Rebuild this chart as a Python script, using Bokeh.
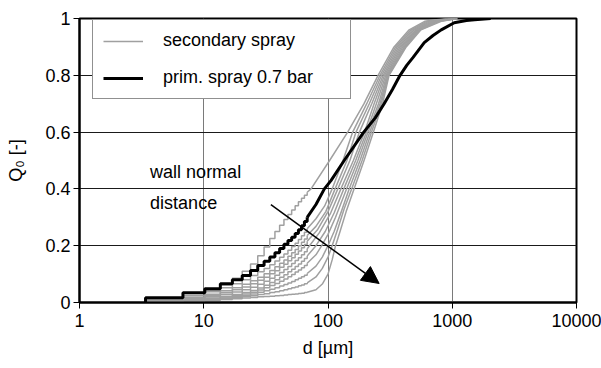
from bokeh.plotting import figure
from bokeh.models import (FixedTicker, CustomJSTickFormatter, Legend, LegendItem,
                          Arrow, NormalHead, Label, Range1d)
from bokeh.embed import file_html
from bokeh.resources import INLINE

# ---------------- data ----------------
X_TICKS = [1, 10, 100, 1000, 10000]
Y_TICKS = [0, 0.2, 0.4, 0.6, 0.8, 1.0]

# size-class upper edges of the discrete (stair-step) part, in um
BIN_D = [3.4, 6.8, 10.2, 13.6, 17.0, 20.4, 23.8, 27.2, 30.6, 34.0,
         37.4, 40.8, 44.2, 47.6, 51.0, 54.4, 57.8, 61.2, 64.6, 68.0]

# primary spray 0.7 bar
PRIM_STEP_Q = [0.0165, 0.034, 0.048, 0.066, 0.080, 0.095, 0.113, 0.130, 0.145, 0.160,
               0.175, 0.190, 0.205, 0.218, 0.230, 0.243, 0.256, 0.270, 0.285, 0.300]
PRIM_D = [68, 80, 93.5, 106, 135, 194, 240, 283, 330, 380, 430, 484, 595, 700, 815, 1037, 1300, 1510, 2040]
PRIM_Q = [0.30, 0.345, 0.40, 0.43, 0.50, 0.60, 0.65, 0.70, 0.75, 0.80, 0.835, 0.863, 0.915, 0.94,
          0.96, 0.985, 0.993, 0.996, 1.0]

# secondary spray, ten wall-normal distances (closest first)
SEC_STEP_Q = [
    [0.011, 0.025, 0.042, 0.062, 0.085, 0.110, 0.136, 0.165, 0.195, 0.225, 0.250, 0.272, 0.292, 0.310, 0.326, 0.341, 0.355, 0.367, 0.378, 0.388],
    [0.010, 0.024, 0.038, 0.052, 0.066, 0.080, 0.095, 0.108, 0.120, 0.133, 0.146, 0.159, 0.171, 0.184, 0.197, 0.209, 0.222, 0.235, 0.247, 0.260],
    [0.008, 0.018, 0.029, 0.041, 0.052, 0.064, 0.077, 0.089, 0.101, 0.113, 0.126, 0.138, 0.150, 0.163, 0.175, 0.187, 0.200, 0.212, 0.224, 0.236],
    [0.007, 0.016, 0.025, 0.035, 0.045, 0.055, 0.066, 0.078, 0.089, 0.101, 0.112, 0.124, 0.135, 0.147, 0.158, 0.170, 0.181, 0.193, 0.204, 0.216],
    [0.006, 0.013, 0.021, 0.029, 0.037, 0.045, 0.054, 0.064, 0.075, 0.085, 0.096, 0.106, 0.116, 0.127, 0.137, 0.148, 0.158, 0.168, 0.179, 0.189],
    [0.005, 0.010, 0.016, 0.022, 0.028, 0.035, 0.042, 0.051, 0.061, 0.070, 0.080, 0.089, 0.098, 0.108, 0.117, 0.127, 0.136, 0.145, 0.155, 0.164],
    [0.004, 0.009, 0.014, 0.019, 0.024, 0.030, 0.036, 0.044, 0.052, 0.060, 0.067, 0.075, 0.083, 0.091, 0.099, 0.107, 0.114, 0.122, 0.130, 0.138],
    [0.004, 0.008, 0.012, 0.016, 0.021, 0.025, 0.030, 0.036, 0.041, 0.047, 0.052, 0.058, 0.063, 0.069, 0.074, 0.080, 0.085, 0.091, 0.096, 0.102],
    [0.003, 0.007, 0.010, 0.014, 0.017, 0.021, 0.024, 0.028, 0.031, 0.035, 0.038, 0.041, 0.045, 0.048, 0.052, 0.055, 0.059, 0.062, 0.066, 0.069],
    [0.003, 0.006, 0.008, 0.011, 0.013, 0.016, 0.018, 0.020, 0.021, 0.022, 0.024, 0.025, 0.026, 0.028, 0.029, 0.030, 0.032, 0.033, 0.035, 0.036],
]
SEC_D = [
    [68, 73, 103, 144, 195, 253, 340, 450, 600, 900],
    [68, 80, 94, 108, 132, 158, 205, 262, 350, 465, 625, 950],
    [68, 80, 96, 114, 142, 168, 215, 270, 360, 480, 650, 1000],
    [68, 82, 100, 120, 150, 179, 225, 278, 370, 495, 675, 1000],
    [68, 71, 85, 105, 127, 160, 197, 235, 285, 380, 510, 700, 1050],
    [68, 80, 95, 112, 134, 167, 204, 245, 292, 390, 520, 720, 1050],
    [68, 80, 89, 100, 115, 141, 174, 210, 255, 298, 400, 530, 740, 1100],
    [68, 80, 90, 100, 112, 128, 148, 181, 217, 262, 303, 410, 540, 760, 1100],
    [68, 80, 90, 100, 108, 120, 135, 155, 188, 224, 268, 307, 418, 550, 790, 1100],
    [68, 80, 90, 100, 108, 115, 125, 140, 162, 195, 232, 275, 310, 426, 560, 815, 1100],
]
SEC_Q = [
    [0.388, 0.40, 0.50, 0.60, 0.70, 0.80, 0.90, 0.96, 0.99, 1.0],
    [0.26, 0.295, 0.34, 0.40, 0.50, 0.60, 0.70, 0.80, 0.90, 0.96, 0.99, 1.0],
    [0.236, 0.268, 0.32, 0.40, 0.50, 0.60, 0.70, 0.80, 0.90, 0.96, 0.99, 1.0],
    [0.216, 0.255, 0.32, 0.40, 0.50, 0.60, 0.70, 0.80, 0.90, 0.96, 0.99, 1.0],
    [0.189, 0.20, 0.245, 0.315, 0.40, 0.50, 0.60, 0.70, 0.80, 0.90, 0.96, 0.99, 1.0],
    [0.164, 0.20, 0.25, 0.315, 0.40, 0.50, 0.60, 0.70, 0.80, 0.90, 0.96, 0.99, 1.0],
    [0.138, 0.168, 0.20, 0.24, 0.30, 0.40, 0.50, 0.60, 0.70, 0.80, 0.90, 0.96, 0.99, 1.0],
    [0.102, 0.128, 0.16, 0.20, 0.25, 0.32, 0.40, 0.50, 0.60, 0.70, 0.80, 0.90, 0.96, 0.99, 1.0],
    [0.069, 0.09, 0.12, 0.16, 0.20, 0.26, 0.33, 0.40, 0.50, 0.60, 0.70, 0.80, 0.90, 0.96, 0.99, 1.0],
    [0.036, 0.045, 0.065, 0.10, 0.15, 0.20, 0.25, 0.32, 0.40, 0.50, 0.60, 0.70, 0.80, 0.90, 0.96, 0.99, 1.0],
]

LEGEND_LABELS = ["secondary spray", "prim. spray 0.7 bar"]
NOTE_LINES = ["wall normal", "distance"]

# ---------------- style ----------------
FONT = "Liberation Sans"
GRAY = "#a0a0a0"
FS = "18px"

p = figure(width=601, height=368, x_axis_type="log",
           x_range=Range1d(1, 10000), y_range=Range1d(0, 1),
           output_backend="svg", toolbar_location=None,
           min_border_left=79, min_border_right=25,
           min_border_top=18, min_border_bottom=66)
p.background_fill_color = "white"
p.border_fill_color = "white"
p.outline_line_color = "black"
p.outline_line_width = 2

# grids
p.xgrid.grid_line_color = "#7a7a7a"
p.xgrid.grid_line_width = 1
p.ygrid.grid_line_color = "#1a1a1a"
p.ygrid.grid_line_width = 1

# axes
p.xaxis.ticker = FixedTicker(ticks=X_TICKS, minor_ticks=[])
p.yaxis.ticker = FixedTicker(ticks=Y_TICKS, minor_ticks=[])
p.xaxis.formatter = CustomJSTickFormatter(code="return String(Math.round(tick));")
p.yaxis.formatter = CustomJSTickFormatter(code="return String(Math.round(tick*10)/10);")
for ax in (p.xaxis, p.yaxis):
    ax.axis_line_color = "black"
    ax.axis_line_width = 2
    ax.major_tick_line_color = "black"
    ax.major_tick_line_width = 1
    ax.major_tick_out = 6
    ax.major_tick_in = 0
    ax.minor_tick_line_color = None
    ax.major_label_text_font = FONT
    ax.major_label_text_font_size = FS
    ax.major_label_text_color = "black"
    ax.axis_label_text_font = FONT
    ax.axis_label_text_font_size = FS
    ax.axis_label_text_font_style = "normal"
    ax.axis_label_text_color = "black"
p.xaxis.major_label_standoff = 5
p.yaxis.major_label_standoff = 3
p.xaxis.axis_label = "d [µm]"
p.yaxis.axis_label = "Q₀ [-]"
p.xaxis.axis_label_standoff = 8
p.yaxis.axis_label_standoff = 16

# secondary spray curves
sec_lines = []
for step_q, d, q in zip(SEC_STEP_Q, SEC_D, SEC_Q):
    p.step(x=[BIN_D[0]] + BIN_D, y=[0] + step_q, mode="after",
           line_color=GRAY, line_width=1.5)
    r = p.line(x=d, y=q, line_color=GRAY, line_width=1.5, line_join="round")
    sec_lines.append(r)

# primary spray
p.step(x=[BIN_D[0]] + BIN_D, y=[0] + PRIM_STEP_Q, mode="after",
       line_color="black", line_width=3)
prim = p.line(x=PRIM_D, y=PRIM_Q, line_color="black", line_width=3, line_join="round")

# arrow + annotation text
p.add_layout(Arrow(end=NormalHead(size=17, fill_color="black", line_color="black"),
                   x_start=34.7, y_start=0.345, x_end=258, y_end=0.067,
                   line_color="black", line_width=1.5))
for txt, yy in zip(NOTE_LINES, [0.458, 0.352]):
    p.add_layout(Label(x=3.7, y=yy, text=txt, text_baseline="middle",
                       text_font=FONT, text_font_size=FS, text_color="black"))

legend = Legend(items=[LegendItem(label=LEGEND_LABELS[0], renderers=[sec_lines[0]]),
                       LegendItem(label=LEGEND_LABELS[1], renderers=[prim])],
                location=(13, 203))
legend.label_text_font = FONT
legend.label_text_font_size = FS
legend.label_text_color = "black"
legend.glyph_width = 40
legend.glyph_height = 18
legend.label_height = 18
legend.label_width = 177
legend.spacing = 16
legend.padding = 10
legend.margin = 0
legend.label_standoff = 20
legend.border_line_color = "#222222"
legend.border_line_width = 1
legend.background_fill_alpha = 1
p.add_layout(legend)

open("out.html", "w").write(file_html(p, INLINE))
